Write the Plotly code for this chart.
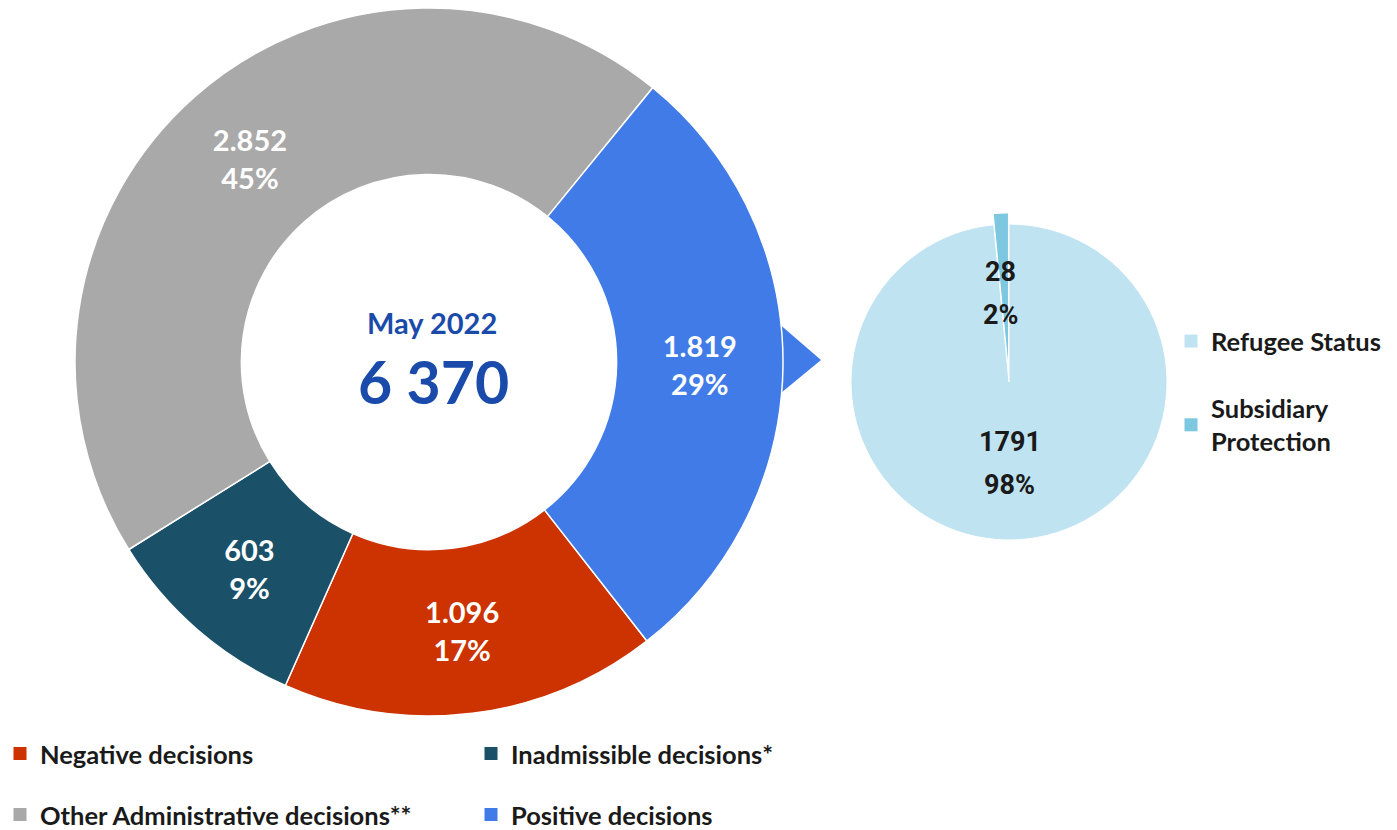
import plotly.graph_objects as go

W, H = 1397, 830

# ---------------- data ----------------
decision_labels = ["Negative decisions", "Inadmissible decisions*",
                   "Other Administrative decisions**", "Positive decisions"]
decision_values = [1096, 603, 2852, 1819]
decision_colors = ["#CC3300", "#1A5169", "#A9A9A9", "#407BE8"]

protection_labels = ["Refugee Status", "Subsidiary<br>Protection"]
protection_values = [1791, 28]
protection_colors = ["#C0E3F2", "#7DC7E0"]

center_title = "May 2022"

# ---------------- helpers (pixel -> paper) ----------------
def px_x(x):
    return x / W


def px_y(y):
    return 1 - y / H


FONT = "Lato"
DARK = "#1A1A1A"

donut_cx, donut_cy, donut_r = 429, 362, 354
pie_cx, pie_cy, pie_r, pie_pull = 1009, 382, 158, 0.07
pie_half = pie_r * (1 + pie_pull)

fig = go.Figure()

# main donut
fig.add_trace(go.Pie(
    labels=decision_labels,
    values=decision_values,
    marker=dict(colors=decision_colors, line=dict(color="white", width=1.5)),
    hole=0.53,
    sort=False,
    direction="clockwise",
    rotation=142,
    texttemplate="%{value:,}<br>%{percent:.0%}",
    textposition="inside",
    insidetextorientation="horizontal",
    insidetextfont=dict(family=FONT, size=29, color="white", weight="bold"),
    showlegend=False,
    domain=dict(x=[px_x(donut_cx - donut_r), px_x(donut_cx + donut_r)],
                y=[px_y(donut_cy + donut_r), px_y(donut_cy - donut_r)]),
    hoverinfo="label+value+percent",
))

# breakdown pie
fig.add_trace(go.Pie(
    labels=protection_labels,
    values=protection_values,
    marker=dict(colors=protection_colors, line=dict(color="white", width=1)),
    sort=False,
    direction="clockwise",
    rotation=0,
    pull=[0, pie_pull],
    textinfo="none",
    showlegend=False,
    domain=dict(x=[px_x(pie_cx - pie_half), px_x(pie_cx + pie_half)],
                y=[px_y(pie_cy + pie_half), px_y(pie_cy - pie_half)]),
    hoverinfo="label+value+percent",
))

# legend entries (dummy traces so the legend can be laid out like the original)
legend_ids = ["legend", "legend", "legend2", "legend2"]
for lab, col, lg in zip(decision_labels, decision_colors, legend_ids):
    fig.add_trace(go.Scatter(x=[None], y=[None], mode="markers", name=lab,
                             marker=dict(symbol="square", size=13, color=col),
                             legend=lg, legendgroup=lab, hoverinfo="skip"))
for lab, col in zip(protection_labels, protection_colors):
    fig.add_trace(go.Scatter(x=[None], y=[None], mode="markers", name=lab,
                             marker=dict(symbol="square", size=13, color=col),
                             legend="legend3", legendgroup=lab, hoverinfo="skip"))

# center annotations
total = sum(decision_values)
annotations = [
    dict(x=px_x(432), y=px_y(322), xref="paper", yref="paper",
         xanchor="center", yanchor="middle",
         text=center_title, showarrow=False,
         font=dict(family=FONT, size=29, color="#1A4BAA", weight="bold")),
    dict(x=px_x(434), y=px_y(381), xref="paper", yref="paper",
         xanchor="center", yanchor="middle",
         text=f"{total:,}".replace(",", " "), showarrow=False,
         font=dict(family=FONT, size=59, color="#1A4BAA", weight="bold")),
]

# breakdown pie labels
ptotal = sum(protection_values)
label_offsets = {0: (1, 60), 1: (-8, -110)}
for i, v in enumerate(protection_values):
    dx, dy = label_offsets[i]
    pct = round(100 * v / ptotal)
    for k, t in enumerate([f"{v}", f"{pct}%"]):
        annotations.append(dict(
            x=px_x(pie_cx + dx), y=px_y(pie_cy + dy + 43 * k),
            xref="paper", yref="paper", xanchor="center", yanchor="middle",
            text=t, showarrow=False,
            font=dict(family="Roboto", size=27, color=DARK, weight="bold")))

# connector arrow between donut and pie
tri = [(770, 316), (821, 360), (770, 402)]
path = "M " + " L ".join(f"{px_x(x)},{px_y(y)}" for x, y in tri) + " Z"
shapes = [dict(type="path", path=path, xref="paper", yref="paper",
               fillcolor="#407BE8", line=dict(width=0), layer="below")]

legend_font = dict(family=FONT, size=25.5, color=DARK, weight="bold")
fig.update_layout(
    width=W, height=H,
    margin=dict(l=0, r=0, t=0, b=0, autoexpand=False),
    paper_bgcolor="white", plot_bgcolor="white",
    separators=",.",
    xaxis=dict(visible=False), yaxis=dict(visible=False),
    annotations=annotations,
    shapes=shapes,
    legend=dict(orientation="h", x=0, xanchor="left", y=px_y(754), yanchor="middle",
                entrywidth=426, entrywidthmode="pixels", font=legend_font,
                bgcolor="rgba(0,0,0,0)", itemclick=False, itemdoubleclick=False),
    legend2=dict(orientation="h", x=0, xanchor="left", y=px_y(815), yanchor="middle",
                 entrywidth=426, entrywidthmode="pixels", font=legend_font,
                 bgcolor="rgba(0,0,0,0)", itemclick=False, itemdoubleclick=False),
    legend3=dict(orientation="v", x=px_x(1171), xanchor="left", y=px_y(318), yanchor="top",
                 traceorder="grouped", tracegroupgap=31, font=legend_font,
                 bgcolor="rgba(0,0,0,0)", itemclick=False, itemdoubleclick=False),
)

fig.write_html("out.html")
